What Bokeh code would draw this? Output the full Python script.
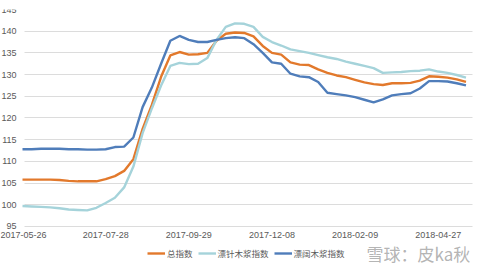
from bokeh.plotting import figure
from bokeh.models import Legend, LegendItem, Label, FixedTicker, Range1d
from bokeh.embed import file_html
from bokeh.resources import INLINE

tick_labels = ["2017-05-26", "2017-07-28", "2017-09-29", "2017-12-08", "2018-02-09", "2018-04-27"]
tick_positions = [0, 9, 18, 27, 36, 45]

total_index = [105.8, 105.8, 105.8, 105.8, 105.7, 105.5, 105.4, 105.4, 105.4, 105.9,
               106.6, 107.8, 110.5, 117.5, 123.0, 129.5, 134.4, 135.2, 134.6, 134.7,
               135.0, 137.8, 139.4, 139.7, 139.6, 138.8, 136.6, 135.0, 134.6, 132.8,
               132.3, 132.2, 131.2, 130.4, 129.8, 129.4, 128.8, 128.2, 127.8, 127.6,
               128.0, 128.0, 128.1, 128.6, 129.6, 129.5, 129.3, 128.9, 128.3]
softwood_index = [99.7, 99.6, 99.5, 99.4, 99.2, 98.9, 98.8, 98.7, 99.3, 100.4,
                  101.6, 104.0, 108.8, 116.5, 122.2, 127.5, 132.0, 132.7, 132.4, 132.5,
                  133.8, 138.0, 141.0, 141.8, 141.7, 141.0, 138.7, 137.5, 136.7, 135.8,
                  135.4, 135.0, 134.5, 134.0, 133.6, 133.0, 132.5, 132.0, 131.5, 130.4,
                  130.5, 130.6, 130.8, 130.9, 131.2, 130.7, 130.4, 129.9, 129.3]
hardwood_index = [112.8, 112.8, 112.9, 112.9, 112.9, 112.8, 112.8, 112.7, 112.7, 112.8,
                  113.3, 113.4, 115.5, 122.5, 127.0, 132.5, 137.8, 138.9, 138.0, 137.5,
                  137.5, 138.0, 138.4, 138.6, 138.4, 137.0, 135.0, 132.8, 132.5, 130.2,
                  129.6, 129.4, 128.3, 125.8, 125.5, 125.2, 124.8, 124.2, 123.6, 124.3,
                  125.2, 125.5, 125.7, 126.8, 128.5, 128.5, 128.4, 128.0, 127.5]
series_names = ["总指数", "漂针木浆指数", "漂阔木浆指数"]
series_colors = ["#E2792C", "#A5D3DA", "#4F7DBA"]
y_ticks = [95, 100, 105, 110, 115, 120, 125, 130, 135, 140, 145]
watermark = "雪球：皮ka秋"

x = list(range(len(total_index)))

# the frame covers the whole canvas; axes are pinned inside it
p = figure(width=480, height=265, output_backend="svg", toolbar_location=None,
           x_range=Range1d(-2.381, 49.57), y_range=Range1d(86.0, 145),
           min_border_left=0, min_border_right=0, min_border_top=9, min_border_bottom=0)
p.outline_line_color = None
p.background_fill_color = "white"

# horizontal grid lines
grid_has_cross = "cross_bounds" in p.ygrid[0].properties()
p.xgrid.grid_line_color = None
p.ygrid.ticker = FixedTicker(ticks=y_ticks)
if grid_has_cross:
    p.ygrid.cross_bounds = (0.2, 48.7)
    p.ygrid.grid_line_color = "#dcdcdc"
    p.ygrid.grid_line_width = 1
else:
    p.ygrid.grid_line_color = None
    p.segment(x0=[0.2] * len(y_ticks), x1=[48.7] * len(y_ticks), y0=y_ticks, y1=y_ticks,
              line_color="#dcdcdc", line_width=1)

renderers = []
for ys, c in zip([total_index, softwood_index, hardwood_index], series_colors):
    r = p.line(x, ys, line_color=c, line_width=2.4)
    renderers.append(r)

p.xaxis.ticker = FixedTicker(ticks=tick_positions)
p.xaxis.major_label_overrides = {t: l for t, l in zip(tick_positions, tick_labels)}
p.xaxis.fixed_location = 95
p.yaxis.ticker = FixedTicker(ticks=y_ticks)
p.yaxis.fixed_location = 0
for ax in (p.xaxis[0], p.yaxis[0]):
    ax.axis_line_color = None
    ax.major_tick_line_color = None
    ax.minor_tick_line_color = None
    ax.major_label_text_font = "Liberation Sans"
    ax.major_label_text_font_size = "9px"
    ax.major_label_text_color = "#595959"
p.xaxis.major_label_standoff = 0
p.yaxis.major_label_standoff = 0

legend = Legend(items=[LegendItem(label=n, renderers=[r]) for n, r in zip(series_names, renderers)],
                orientation="horizontal", location=(147, 6),
                label_text_font="Noto Sans CJK SC", label_text_font_size="8.5px",
                label_text_color="#595959", glyph_width=18, glyph_height=10,
                label_standoff=2, spacing=5, padding=0, margin=0,
                label_height=10,
                background_fill_alpha=0, border_line_color=None)
p.add_layout(legend, "center")

wm = Label(x=366, y=0, x_units="screen", y_units="screen", text=watermark,
           text_font="Noto Sans CJK SC", text_font_size="17px", text_color="#ababab",
           text_baseline="bottom", text_alpha=0.9)
p.add_layout(wm)

open("out.html", "w").write(file_html(p, INLINE))
